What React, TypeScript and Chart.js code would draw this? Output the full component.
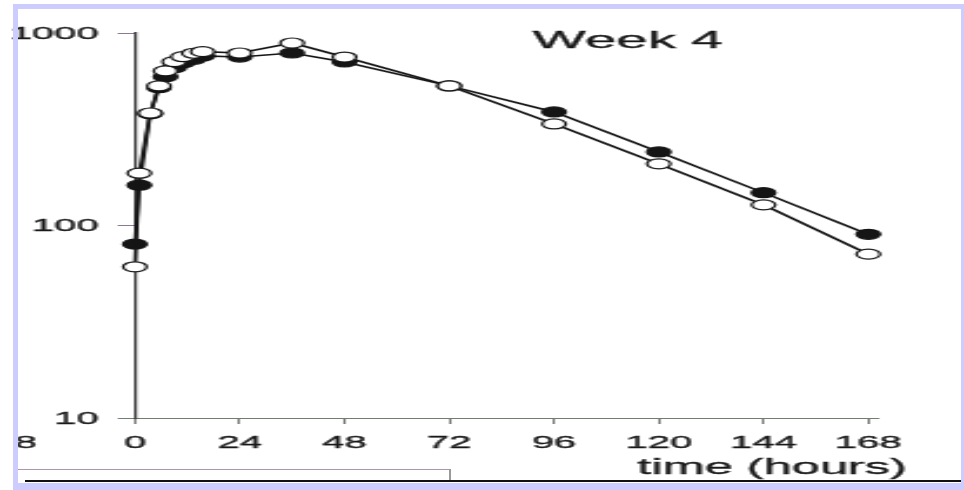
import React, { useEffect, useRef } from "react";
import { Chart, registerables } from "chart.js";

Chart.register(...registerables);

// ---- data ----
const hours = [0, 1, 3.5, 5.5, 7, 9, 11, 13.5, 15.5, 24, 36, 48, 72, 96, 120, 144, 168];
const openValues = [61, 187, 384, 531, 635, 710, 753, 785, 800, 787, 887, 750, 531, 337, 209, 128, 71];
const filledValues = [80, 162, 380, 520, 593, 660, 700, 730, 760, 750, 787, 707, 531, 389, 241, 148, 90];
const xTickValues = [0, 24, 48, 72, 96, 120, 144, 168];
const yTickValues = [10, 100, 1000];
const panelTitle = "Week 4";
const xAxisTitle = "time (hours)";
const strayTickLabel = "8";

const INNER_W = 410;
const PAGE_W = 964;
const PAGE_H = 490;
const STRETCH = PAGE_W / INNER_W;
const FONT = '"Liberation Sans", Arial, Helvetica, sans-serif';
const INK = "#1a1a1a";

export default function App() {
  const ref = useRef<HTMLCanvasElement>(null);

  useEffect(() => {
    if (!ref.current) return;
    const textPlugin = {
      id: "extraTexts",
      afterDraw(chart: any) {
        const ctx = chart.ctx as CanvasRenderingContext2D;
        const xs = chart.scales.x;
        const ys = chart.scales.y;
        const put = (t: string, x: number, y: number) => {
          ctx.fillText(t, x, y);
          ctx.strokeText(t, x, y);
        };
        ctx.save();
        ctx.fillStyle = INK;
        ctx.strokeStyle = INK;
        ctx.lineWidth = 0.35;
        ctx.font = `17px ${FONT}`;
        // y tick labels, right-aligned left of the axis at x = 0
        ctx.textAlign = "right";
        ctx.textBaseline = "middle";
        const axisX = xs.getPixelForValue(0);
        yTickValues.forEach((v) => {
          put(String(v), axisX - 15.4, ys.getPixelForValue(v) + 1);
        });
        // x tick labels
        ctx.textAlign = "center";
        ctx.textBaseline = "alphabetic";
        xTickValues.forEach((v) => {
          put(String(v), xs.getPixelForValue(v), 448);
        });
        // stray tick label from the neighbouring panel
        put(strayTickLabel, 11.1, 448);
        // panel title and axis title
        ctx.textAlign = "left";
        ctx.font = `24px ${FONT}`;
        put(panelTitle, 226.5, 48);
        ctx.font = `21.5px ${FONT}`;
        put(xAxisTitle, 271, 474);
        ctx.restore();
      },
    };

    const chart = new Chart(ref.current, {
      type: "line",
      data: {
        datasets: [
          {
            label: "open",
            data: hours.map((h, i) => ({ x: h, y: openValues[i] })),
            borderColor: "#151515",
            borderWidth: 1.6,
            pointRadius: 5,
            pointBorderWidth: 1.2,
            pointBackgroundColor: "#ffffff",
            pointBorderColor: "#151515",
            tension: 0,
            clip: false as any,
          },
          {
            label: "filled",
            data: hours.map((h, i) => ({ x: h, y: filledValues[i] })),
            borderColor: "#151515",
            borderWidth: 1.6,
            pointRadius: 5,
            pointBorderWidth: 1.2,
            pointBackgroundColor: "#151515",
            pointBorderColor: "#151515",
            tension: 0,
            clip: false as any,
          },
        ],
      },
      options: {
        animation: false,
        responsive: true,
        maintainAspectRatio: false,
        layout: { padding: { left: 51, right: 37, top: 33, bottom: 0 } },
        plugins: {
          legend: { display: false },
          tooltip: { enabled: false },
        },
        scales: {
          x: {
            type: "linear",
            min: -3.44,
            max: 170,
            afterBuildTicks: (scale: any) => {
              scale.ticks = xTickValues.map((v) => ({ value: v }));
            },
            afterFit: (scale: any) => {
              scale.height = 72;
            },
            ticks: {
              display: false,
              autoSkip: false,
            },
            grid: {
              drawOnChartArea: false,
              drawTicks: true,
              tickLength: 6,
              tickColor: "#7a7a7a",
              tickWidth: 1,
            },
            border: { display: true, color: "#6f7f6f", width: 1 },
          },
          y: {
            type: "logarithmic",
            min: 10,
            max: 1000,
            position: { x: 0 } as any,
            afterBuildTicks: (scale: any) => {
              scale.ticks = yTickValues.map((v) => ({ value: v }));
            },
            ticks: {
              display: false,
              autoSkip: false,
            },
            grid: {
              drawOnChartArea: false,
              drawTicks: true,
              tickLength: 7,
              tickColor: "#8a7a8f",
              tickWidth: 1,
            },
            border: { display: true, color: "#3a3a3a", width: 1.2 },
          },
        },
      },
      plugins: [textPlugin],
    });
    return () => chart.destroy();
  }, []);

  const lav = "#ccccff";
  const abs = (l: number, t: number, w: number, h: number, bg: string) => ({
    position: "absolute" as const,
    left: l,
    top: t,
    width: w,
    height: h,
    background: bg,
  });

  return (
    <div
      style={{
        position: "fixed",
        left: 0,
        top: 0,
        width: PAGE_W,
        height: PAGE_H,
        background: "#ffffff",
        overflow: "hidden",
      }}
    >
      <div
        style={{
          position: "absolute",
          left: 0,
          top: 0,
          width: INNER_W,
          height: PAGE_H,
          transform: `scaleX(${STRETCH})`,
          transformOrigin: "0 0",
        }}
      >
        <canvas ref={ref} />
      </div>
      <div style={abs(18, 469, 432, 1, "#a898a8")} />
      <div style={abs(449, 469, 2, 12, "#999999")} />
      <div style={abs(25, 480, 936, 2, "#111111")} />
      <div style={abs(13, 4, 951, 5, lav)} />
      <div style={abs(13, 4, 5, 486, lav)} />
      <div style={abs(961, 4, 3, 486, lav)} />
      <div style={abs(13, 483, 951, 7, lav)} />
    </div>
  );
}
